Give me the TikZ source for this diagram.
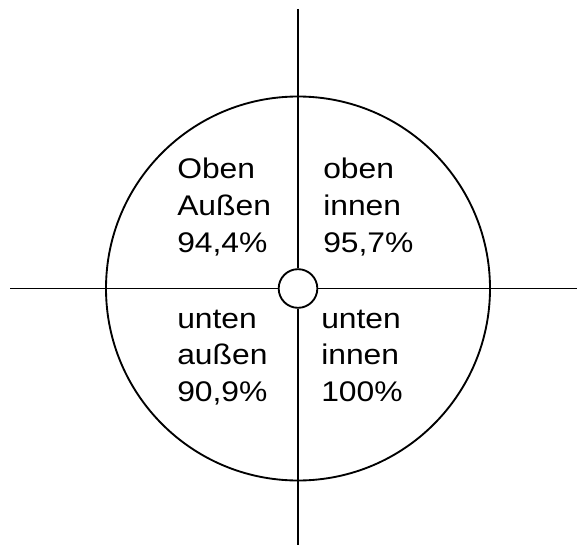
\documentclass[tikz,border=0pt]{standalone}
\usepackage{fontspec}
\setmainfont[FakeStretch=1.12]{Liberation Sans}
\usetikzlibrary{positioning}

\begin{document}
\begin{tikzpicture}[
      x=0.75pt, y=-0.75pt,
      axis/.style={line width=1.4pt},
      ring/.style={draw, circle, line width=1.4pt, inner sep=0pt},
      quad/.style={anchor=base west, align=left, inner sep=0pt,
                   font=\fontsize{21.3}{27.4}\selectfont}]
    \useasboundingbox (0,0) rectangle (577,545);
    % target rings
    \node[ring, minimum size=288pt] (outer) at (298,288.5) {};
    % axis ends
    \coordinate (north) at (298,9);
    \coordinate (south) at (298,545);
    \coordinate (west)  at (10,288.5);
    \coordinate (east)  at (577,288.5);
    \node[ring, fill=white, minimum size=29pt] (hub) at (outer.center) {};
    \draw[axis] (north) -- (hub);
    \draw[axis] (hub) -- (south);
    \draw[axis] (west) -- (hub);
    \draw[axis] (hub) -- (east);
    % quadrant labels (base = last line)
    \node[quad] (ol) at (177,252)   {Oben\\Außen\\94,4\%};
    \node[quad] (or) at (323,252)   {oben\\innen\\95,7\%};
    \node[quad] (ul) at (177,401.5) {unten\\außen\\90,9\%};
    \node[quad] (ur) at (321,401.5) {unten\\innen\\100\%};
  \end{tikzpicture}
\end{document}
